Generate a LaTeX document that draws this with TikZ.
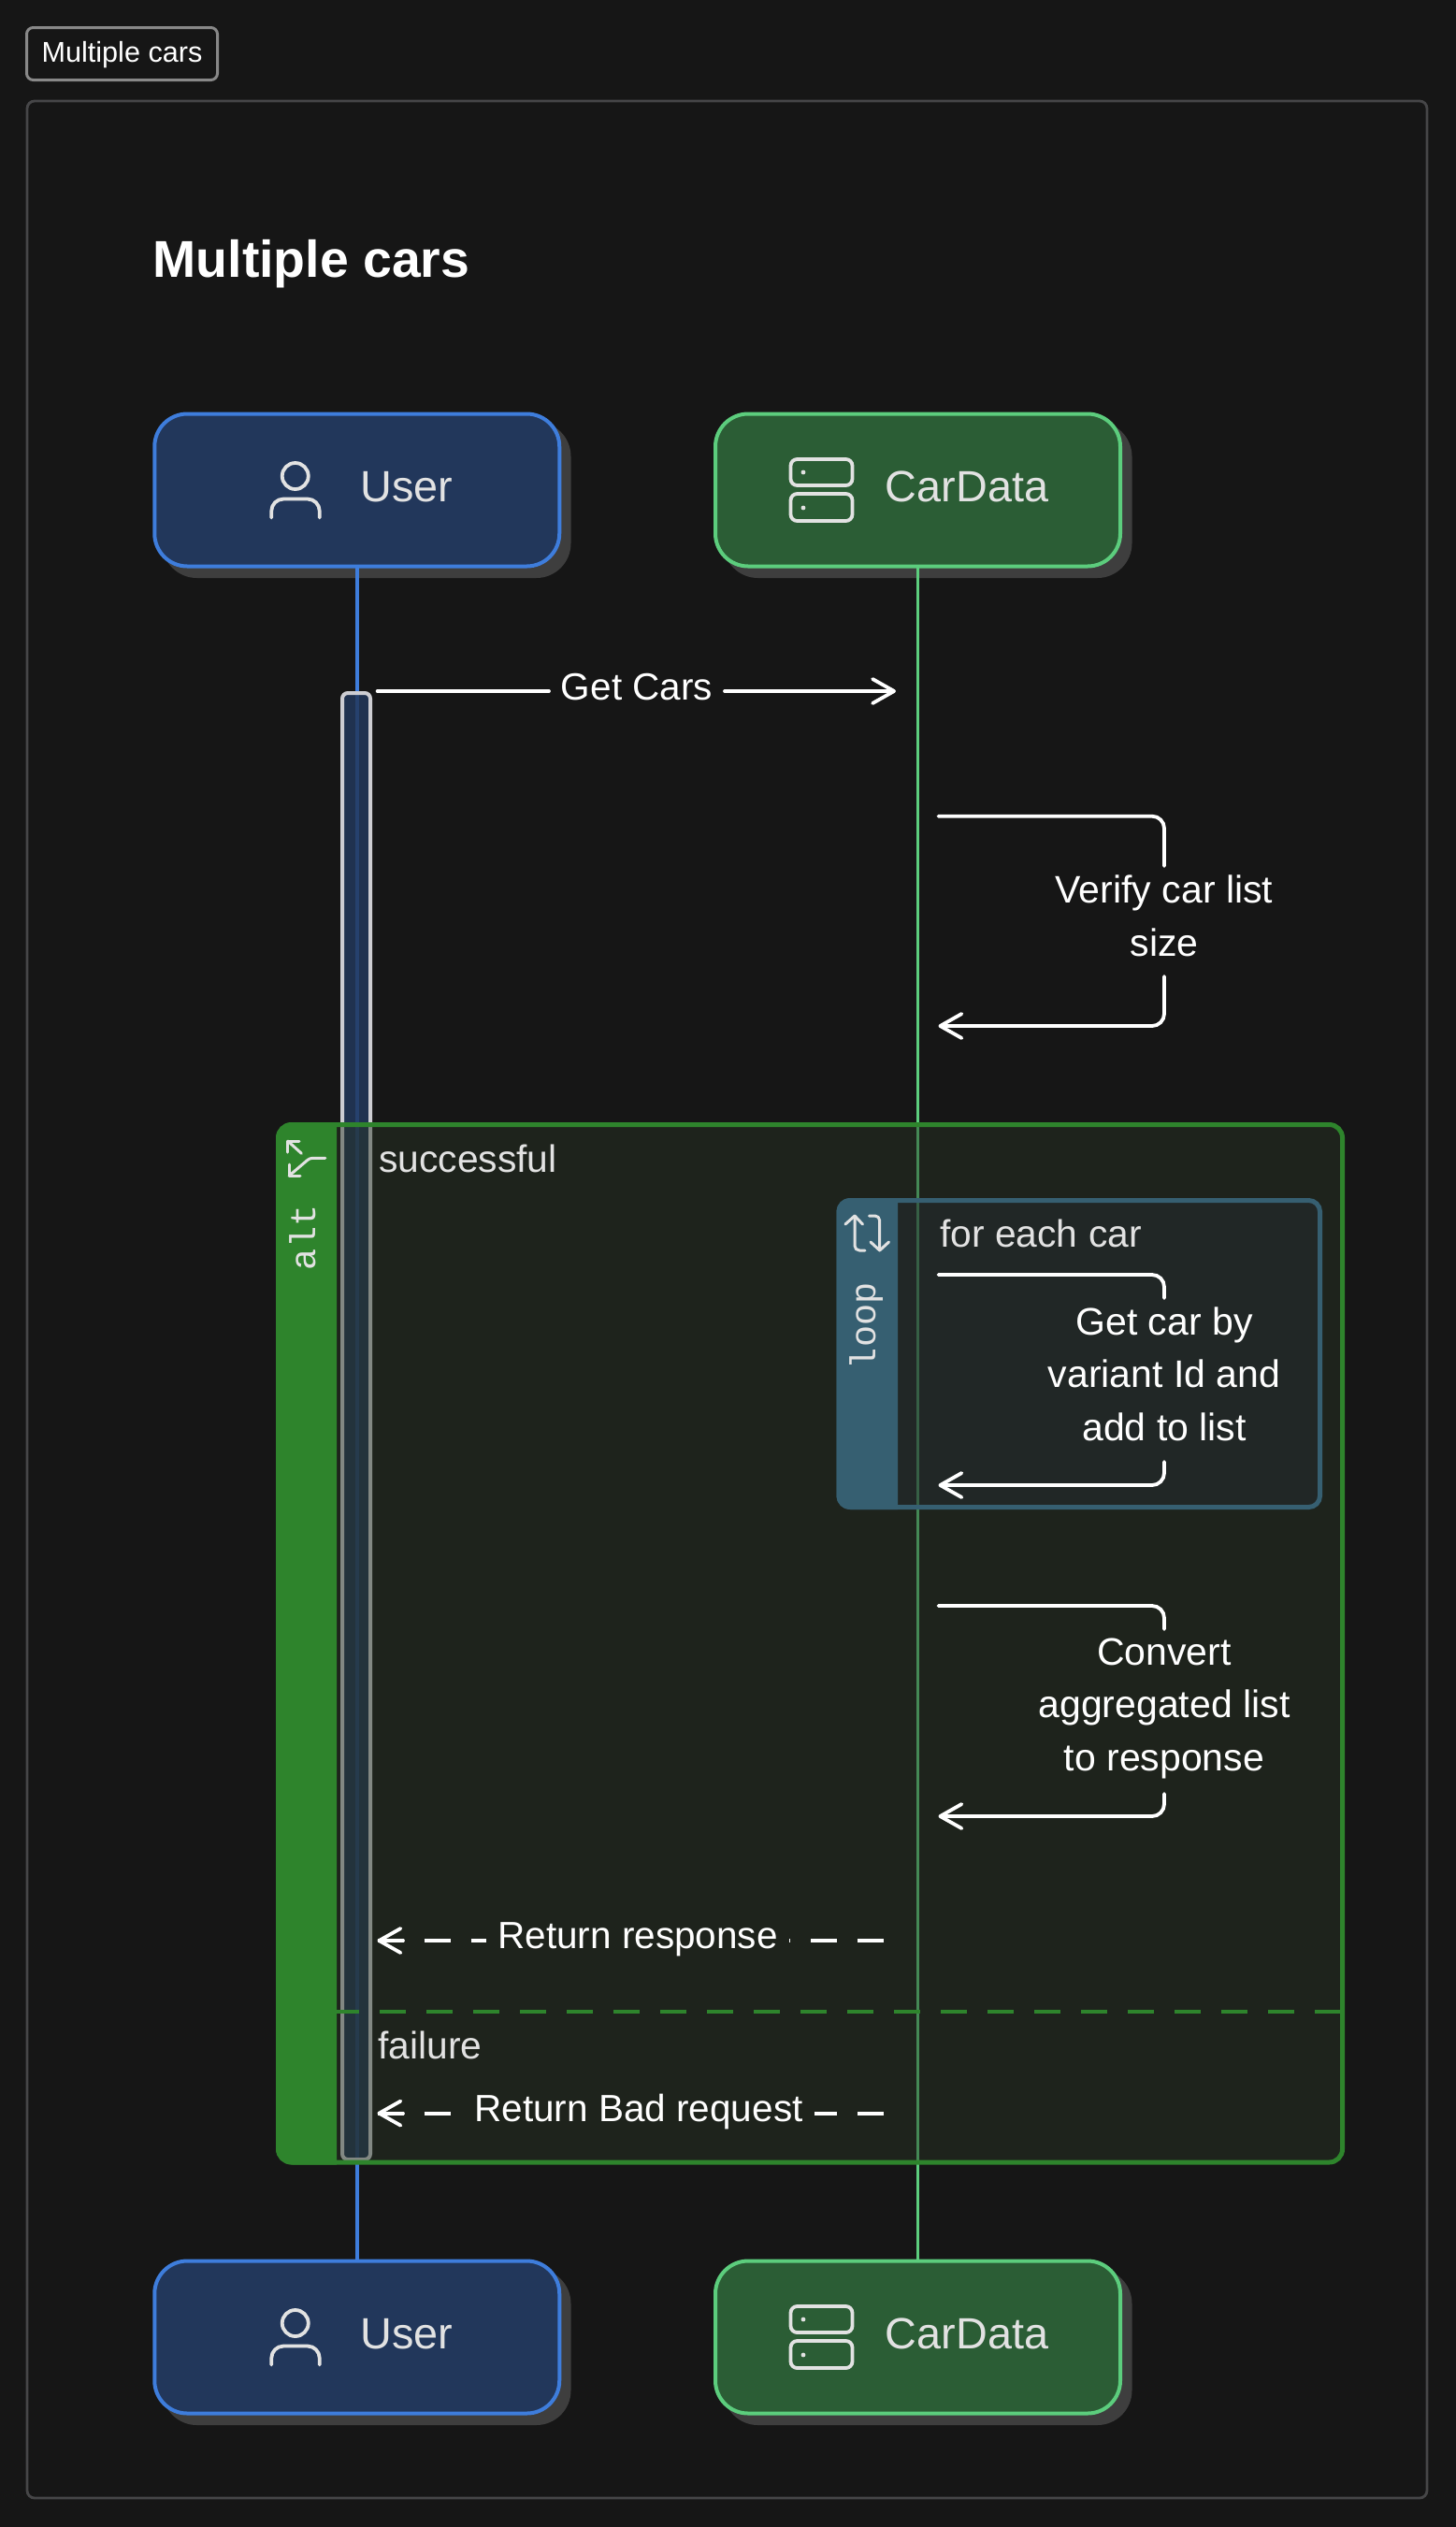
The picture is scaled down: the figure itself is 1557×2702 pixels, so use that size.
\documentclass[tikz,border=0pt]{standalone}
\usepackage{fontspec}
\setmainfont{Liberation Sans}
\newfontfamily\monofam{Liberation Mono}
\usetikzlibrary{arrows.meta}
\definecolor{bgc}{RGB}{22,22,22}
\definecolor{framec}{RGB}{70,70,72}
\definecolor{tagc}{RGB}{136,136,136}
\definecolor{shadowc}{RGB}{62,62,62}
\definecolor{ublue}{RGB}{62,125,220}
\definecolor{ufill}{RGB}{34,55,91}
\definecolor{cgreen}{RGB}{92,205,125}
\definecolor{cfill}{RGB}{43,93,53}
\definecolor{actline}{RGB}{205,205,210}
\definecolor{altgreen}{RGB}{46,132,44}
\definecolor{altbody}{RGB}{40,53,37}
\definecolor{loopblue}{RGB}{54,95,113}
\definecolor{loopbody}{RGB}{38,46,51}
\definecolor{softtext}{RGB}{226,226,226}
\tikzset{
  actorbox/.style={draw,rounded corners=35pt,line width=4pt,minimum width=433pt,minimum height=163pt,outer sep=0pt,inner sep=0pt},
  shadowbox/.style={fill=shadowc,rounded corners=37pt,minimum width=437pt,minimum height=167pt,outer sep=0pt,inner sep=0pt},
  userbox/.style={actorbox,draw=ublue,fill=ufill},
  carbox/.style={actorbox,draw=cgreen,fill=cfill},
  txt/.style={inner sep=0pt,outer sep=0pt,anchor=base},
  actortext/.style={txt,text=softtext,font=\fontsize{46.8}{50}\selectfont},
  guardtext/.style={txt,text=softtext,font=\fontsize{40.8}{50}\selectfont},
  msgtext/.style={txt,text=white,font=\fontsize{41}{56.5}\selectfont,align=center},
  msglabel/.style={txt,text=white,font=\fontsize{40.5}{50}\selectfont,inner xsep=14pt},
  monotext/.style={inner sep=0pt,outer sep=0pt,anchor=base west,rotate=90,text=softtext,font=\monofam\fontsize{38.5}{40}\selectfont},
  msgline/.style={draw=white,line width=3.8pt,line cap=round},
  msgcurve/.style={msgline,rounded corners=13pt},
  dashline/.style={draw=white,line width=3.8pt,dash pattern=on 28pt off 22pt},
  headtip/.style={-{Straight Barb[length=23pt,width=26pt,round]}},
  iconline/.style={draw=softtext,line width=3.8pt,line cap=round,line join=round},
  lifeU/.style={draw=ublue,line width=3.6pt},
  lifeC/.style={draw=cgreen,line width=3.6pt},
  pics/personicon/.style={code={
    \draw[iconline] (-66,-15) circle[radius=14pt];
    \draw[iconline,rounded corners=13pt] (-91.5,29.5) -- (-91.5,9.5) -- (-40,9.5) -- (-40,29.5);
  }},
  pics/servericon/.style={code={
    \draw[iconline,rounded corners=7pt] (-136,-33) rectangle (-70,-5);
    \draw[iconline,rounded corners=7pt] (-136,4) rectangle (-70,33);
    \fill[softtext] (-122.5,-19) circle[radius=2.4pt];
    \fill[softtext] (-122.5,19) circle[radius=2.4pt];
  }}
}
\begin{document}
\begin{tikzpicture}[x=1pt,y=-1pt]
\useasboundingbox (0,0) rectangle (1557,2702);
\fill[bgc] (0,0) rectangle (1557,2702);
% outer frame and tag
\draw[framec,line width=2.8pt,rounded corners=8pt] (29,108) rectangle (1526,2671);
\node[draw=tagc,line width=3pt,rounded corners=7pt,minimum width=204pt,minimum height=56pt,inner sep=0pt,outer sep=0pt] (tagbox) at (130.5,57.5) {};
\node[txt,text=white,font=\fontsize{30.6}{34}\selectfont] (tagtext) at (130.5,66.5) {Multiple cars};
\node[txt,text=white,font=\bfseries\fontsize{55.4}{60}\selectfont] (title) at (333,296) {Multiple cars};
% actor boxes
\node[shadowbox] (usershadowT) at (392,534.5) {};
\node[shadowbox] (carshadowT) at (992,534.5) {};
\node[shadowbox] (usershadowB) at (392,2509.5) {};
\node[shadowbox] (carshadowB) at (992,2509.5) {};
\node[userbox] (userT) at (381.75,524) {};
\node[carbox] (carT) at (981.5,524) {};
\node[userbox] (userB) at (381.75,2499) {};
\node[carbox] (carB) at (981.5,2499) {};
\pic at (userT.center) {personicon};
\pic at (userB.center) {personicon};
\pic at (carT.center) {servericon};
\pic at (carB.center) {servericon};
\node[actortext] (userTt) at (435,536) {User};
\node[actortext] (userBt) at (435,2511) {User};
\node[actortext] (carTt) at (1034,536) {CarData};
\node[actortext] (carBt) at (1034,2511) {CarData};
% lifelines
\draw[lifeU] (userT.south) -- (userB.north);
\draw[lifeC] (carT.south) -- (carB.north);
% activation
\node[draw=actline,line width=4pt,fill=ufill,fill opacity=.85,draw opacity=1,rounded corners=6pt,minimum width=30pt,minimum height=1568pt,inner sep=0pt,outer sep=0pt] (act) at (381,1525) {};
% alt frame
\draw[altgreen,line width=5pt,fill=altbody,fill opacity=.45,draw opacity=1,rounded corners=14pt] (297.5,1202.5) rectangle (1435.5,2312);
\fill[altgreen] (360,1200) [rounded corners=18pt] -- (295,1200) -- (295,2314.5) [sharp corners] -- (360,2314.5) -- cycle;
\draw[iconline,line width=3pt,rounded corners=3pt] (347.9,1238.3) -- (331.3,1238.3) -- (309,1257.3);
\draw[iconline,line width=3pt] (309,1245) -- (309,1257.3) -- (321,1257.3);
\draw[iconline,line width=3pt] (322.4,1233.3) -- (307.7,1220);
\draw[iconline,line width=3pt] (307.7,1232) -- (307.7,1220) -- (320,1220);
\node[monotext] (alttext) at (337,1358) {alt};
\node[guardtext] (succ) at (500.5,1253) {successful};
% loop frame
\draw[loopblue,line width=5pt,fill=loopbody,fill opacity=.45,draw opacity=1,rounded corners=12pt] (897,1283.5) rectangle (1411.5,1611.5);
\fill[loopblue] (960,1281) [rounded corners=15pt] -- (894.5,1281) -- (894.5,1614) [sharp corners] -- (960,1614) -- cycle;
\draw[iconline,line width=3pt,rounded corners=5pt] (914,1300) -- (914,1337) -- (925,1337);
\draw[iconline,line width=3pt] (904,1309) -- (914,1300) -- (922.5,1309);
\draw[iconline,line width=3pt,rounded corners=5pt] (929.5,1300) -- (940.7,1300) -- (940.7,1337);
\draw[iconline,line width=3pt] (931,1328) -- (940.7,1337) -- (950.5,1328);
\node[monotext] (looptext) at (936,1464) {loop};
\node[guardtext] (foreach) at (1113,1333) {for each car};
% divider
\draw[altgreen,line width=3.5pt,dash pattern=on 28pt off 22pt,dash phase=4pt] (360,2151) -- (1433,2151);
\node[guardtext] (fail) at (460,2201) {failure};
% Get Cars
\coordinate (gcA) at (403.6,739);
\coordinate (gcB) at (958,739);
\node[msglabel,inner xsep=13pt] (gc) at (681,748) {Get Cars};
\draw[msgline] (gcA) -- (gc.west |- gcA);
\draw[msgline,headtip] (gc.east |- gcB) -- (gcB);
% Verify
\coordinate (vA) at (1003.5,872.7);
\coordinate (vB) at (1245,926);
\coordinate (vC) at (1245,1044);
\coordinate (vD) at (1003.5,1097);
\node[msgtext] (vt) at (1245,1022) {Verify car list\\size};
\draw[msgcurve] (vA) -| (vB);
\draw[msgcurve,headtip] (vC) |- (vD);
% Get car
\coordinate (lA) at (1003.5,1363);
\coordinate (lB) at (1245,1388);
\coordinate (lC) at (1245,1563);
\coordinate (lD) at (1003.5,1588);
\node[msgtext] (lt) at (1245,1540) {Get car by\\variant Id and\\add to list};
\draw[msgcurve] (lA) -| (lB);
\draw[msgcurve,headtip] (lC) |- (lD);
% Convert
\coordinate (cA) at (1003.5,1717);
\coordinate (cB) at (1245,1742);
\coordinate (cC) at (1245,1918);
\coordinate (cD) at (1003.5,1942);
\node[msgtext] (ct) at (1245,1893) {Convert\\aggregated list\\to response};
\draw[msgcurve] (cA) -| (cB);
\draw[msgcurve,headtip] (cC) |- (cD);
% Return response
\coordinate (rA) at (945,2075);
\coordinate (rB) at (403.5,2075);
\coordinate (rBh) at (431,2075);
\node[msglabel,inner xsep=12.5pt] (rt) at (682,2083) {Return response};
\draw[dashline] (rA) -- (rt.east |- rA);
\draw[dashline] (rB) -- (rt.west |- rB);
\draw[msgline,headtip] (rBh) -- (rB);
% Return bad request
\coordinate (bA) at (945,2259.6);
\coordinate (bB) at (403.5,2259.6);
\coordinate (bBh) at (431,2259.6);
\node[msglabel,inner xsep=12pt] (bt) at (683,2268) {Return Bad request};
\draw[dashline] (bA) -- (bt.east |- bA);
\draw[dashline] (bB) -- (bt.west |- bB);
\draw[msgline,headtip] (bBh) -- (bB);
\end{tikzpicture}
\end{document}
